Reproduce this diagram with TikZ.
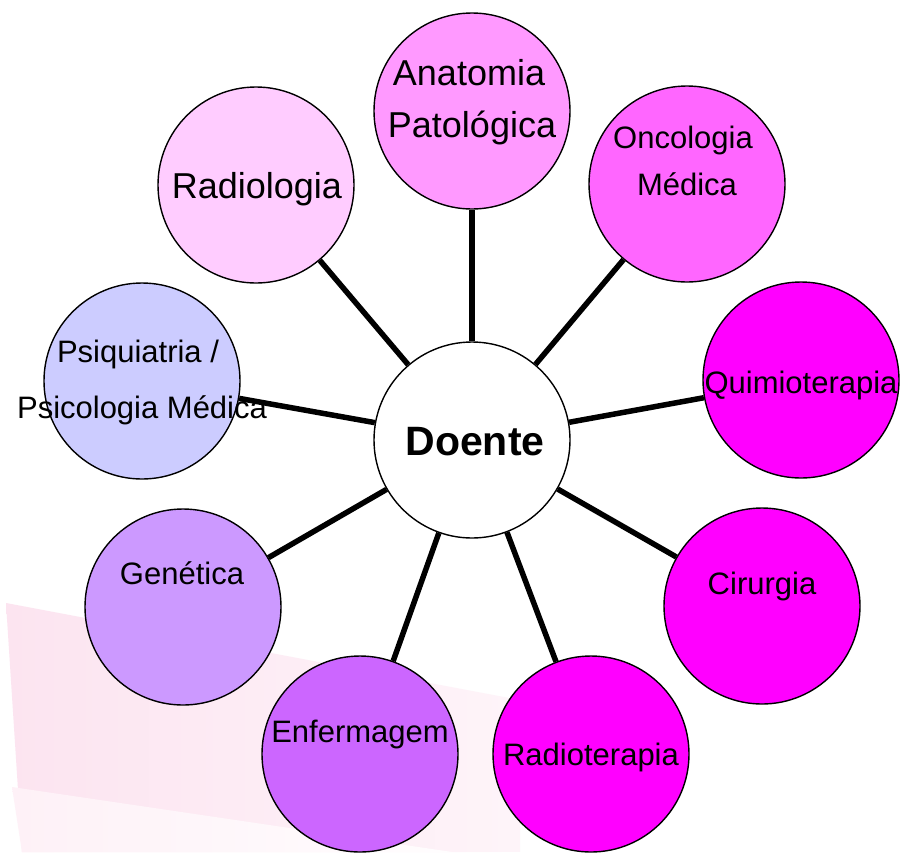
\documentclass[tikz,border=0pt]{standalone}
\usepackage{fontspec}
\setmainfont{Liberation Sans}
\begin{document}
\begin{tikzpicture}[x=1pt,y=-1pt,
  disc/.style={circle,draw=black,line width=1.4pt,minimum size=196pt,inner sep=0pt},
  lbl/.style={anchor=base,inner sep=0pt,font=\fontsize{31}{36}\selectfont},
  biglbl/.style={anchor=base,inner sep=0pt,font=\fontsize{36}{42}\selectfont},
  link/.style={line width=5.5pt,draw=black}]
\definecolor{cAnat}{HTML}{FF99FF}
\definecolor{cRadio}{HTML}{FFCCFF}
\definecolor{cOnco}{HTML}{FF66FF}
\definecolor{cMag}{HTML}{FF00FF}
\definecolor{cEnf}{HTML}{CC66FF}
\definecolor{cGen}{HTML}{CC99FF}
\definecolor{cPsi}{HTML}{CCCCFF}
\definecolor{bgA}{HTML}{FCE4F0}
\definecolor{bgB}{HTML}{FEF1F7}
\useasboundingbox (0,0) rectangle (904,852);
\fill[white] (0,0) rectangle (904,852);
% faint background swoosh
\shade[left color=bgA,right color=bgA!40!white] (6,603) -- (520,700) -- (520,852) -- (22,852) -- cycle;
\shade[left color=bgB,right color=white] (12,787) -- (520,862) -- (520,852) -- (22,852) -- cycle;
% circles
\node[disc,fill=cAnat]  (anat)  at (472,111) {};
\node[disc,fill=cRadio] (radio) at (256,185) {};
\node[disc,fill=cOnco]  (onco)  at (687,184) {};
\node[disc,fill=cMag]   (quimio) at (801,380) {};
\node[disc,fill=cPsi]   (psi)   at (142,381) {};
\node[disc,fill=cGen]   (gen)   at (183,607) {};
\node[disc,fill=cMag]   (cir)   at (762,606) {};
\node[disc,fill=cEnf]   (enf)   at (360,754) {};
\node[disc,fill=cMag]   (radt)  at (591,754) {};
\node[disc,fill=white]  (doente) at (472,440) {};
% connectors
\draw[link] (doente) -- (anat);
\draw[link] (doente) -- (radio);
\draw[link] (doente) -- (onco);
\draw[link] (doente) -- (quimio);
\draw[link] (doente) -- (psi);
\draw[link] (doente) -- (gen);
\draw[link] (doente) -- (cir);
\draw[link] (doente) -- (enf);
\draw[link] (doente) -- (radt);
% labels
\node[biglbl] (anatA) at (469,85) {Anatomia};
\node[biglbl] (anatB) at (472,137) {Patológica};
\node[biglbl] (radioT) at (257,198) {Radiologia};
\node[lbl] (oncoA) at (683,148) {Oncologia};
\node[lbl] (oncoB) at (687,195) {Médica};
\node[lbl] (quimioT) at (801,393) {Quimioterapia};
\node[lbl] (psiA) at (138,362) {Psiquiatria /};
\node[lbl] (psiB) at (142,418) {Psicologia Médica};
\node[lbl] (genT) at (182,584) {Genética};
\node[lbl] (cirT) at (762,594) {Cirurgia};
\node[lbl] (enfT) at (360,742) {Enfermagem};
\node[lbl] (radtT) at (591,765) {Radioterapia};
\node[anchor=base,inner sep=0pt,font=\fontsize{41}{48}\selectfont\bfseries] (doenteT) at (475,455) {Doente};
\end{tikzpicture}
\end{document}
